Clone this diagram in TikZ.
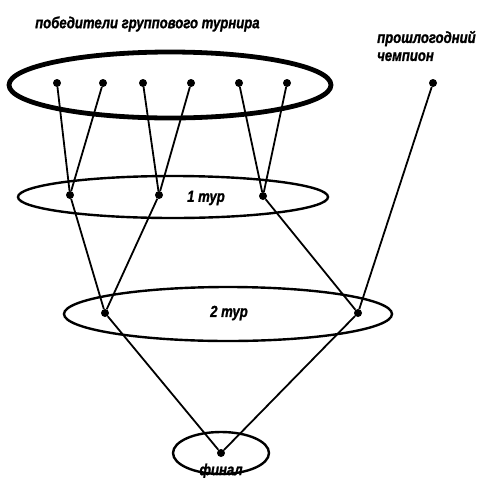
\documentclass[tikz,border=0pt]{standalone}
\usepackage{fontspec}
\setmainfont{Liberation Sans}
\newfontfamily\labfont[FakeStretch=0.82, FakeBold=1.2]{Liberation Sans}
\tikzset{
  dot/.style={circle, fill=black, inner sep=0pt, minimum size=8pt},
  lab/.style={font=\labfont\bfseries\itshape\fontsize{16}{17}\selectfont, inner sep=0pt},
  ring/.style={line width=2.4pt},
  link/.style={line width=1.8pt}
}
\begin{document}
\begin{tikzpicture}[x=1pt, y=-1pt]
  \useasboundingbox (0,0) rectangle (479,477);
  % groups
  \draw[line width=4.8pt] (170,85) ellipse [x radius=161pt, y radius=33pt];
  \draw[ring] (173,197) ellipse [x radius=155pt, y radius=21pt];
  \draw[ring] (228,314) ellipse [x radius=164pt, y radius=27pt];
  \draw[ring] (221,453) ellipse [x radius=48pt, y radius=21pt];
  % labels
  \node[lab, anchor=west] (title) at (35,24) {победители группового турнира};
  \node[lab, anchor=west, align=left] (champ) at (377,46) {прошлогодний\\[1pt]чемпион};
  \node[lab] (r1lab) at (206,198) {1 тур};
  \node[lab] (r2lab) at (229,313) {2 тур};
  \node[lab] (flab) at (221,471) {финал};
  % winners
  \node[dot] (t1) at (57,83) {};
  \node[dot] (t2) at (103,83) {};
  \node[dot] (t3) at (143,83) {};
  \node[dot] (t4) at (191,83) {};
  \node[dot] (t5) at (239,83) {};
  \node[dot] (t6) at (287,83) {};
  \node[dot] (c) at (433,83) {};
  % round 1
  \node[dot] (a1) at (70,195) {};
  \node[dot] (a2) at (159,195) {};
  \node[dot] (a3) at (263,196) {};
  % round 2
  \node[dot] (b1) at (105,313) {};
  \node[dot] (b2) at (358,313) {};
  % final
  \node[dot] (f) at (221,453) {};
  \draw[link] (t1) -- (a1);
  \draw[link] (t2) -- (a1);
  \draw[link] (t3) -- (a2);
  \draw[link] (t4) -- (a2);
  \draw[link] (t5) -- (a3);
  \draw[link] (t6) -- (a3);
  \draw[link] (a1) -- (b1);
  \draw[link] (a2) -- (b1);
  \draw[link] (a3) -- (b2);
  \draw[link] (c) -- (b2);
  \draw[link] (b1) -- (f);
  \draw[link] (b2) -- (f);
\end{tikzpicture}
\end{document}
